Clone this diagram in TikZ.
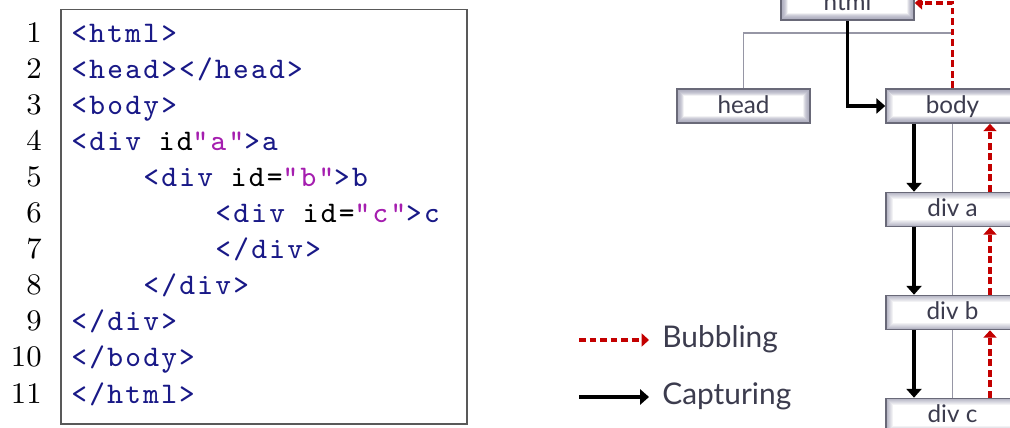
\documentclass[tikz,border=0pt]{standalone}
\usepackage{fontspec}
\setsansfont{Lato}
\newfontfamily\codefont[LetterSpace=7.7]{lmmono9-regular.otf}
\newfontfamily\numfont{lmroman9-regular.otf}
\usetikzlibrary{arrows.meta,calc}
\definecolor{tagblue}{RGB}{25,25,135}
\definecolor{attrpurple}{RGB}{165,30,175}
\definecolor{boxedge}{RGB}{105,105,120}
\definecolor{boxshade}{RGB}{175,175,192}
\definecolor{treegray}{RGB}{150,150,165}
\definecolor{labelgray}{RGB}{60,60,78}
\definecolor{bubred}{RGB}{195,0,0}
\newcommand{\htag}[1]{\textcolor{tagblue}{#1}}
\newcommand{\hattr}[1]{\textcolor{attrpurple}{#1}}

\begin{document}
\begin{tikzpicture}[x=0.02cm, y=0.02cm,
    lineno/.style={anchor=base east, inner sep=0, font=\numfont\fontsize{17}{19}\selectfont},
    codeline/.style={anchor=base west, inner sep=0, font=\codefont\fontsize{17}{19}\selectfont},
    domnode/.style={draw=boxedge, line width=0.9pt, fill=white, inner sep=0,
        minimum width=2.66cm, minimum height=0.68cm, text height=9.1pt, text depth=1.1pt,
        font=\sffamily\fontsize{13.8}{15}\selectfont, text=labelgray,
        path picture={
          \foreach \k [evaluate=\k as \op using 1-0.14*\k] in {1,...,6}
            \draw[boxshade, line width=0.6pt, opacity=\op]
              ([shift={(\k*0.02cm,\k*0.02cm)}]path picture bounding box.south west) rectangle
              ([shift={(-\k*0.02cm,-\k*0.02cm)}]path picture bounding box.north east);
        }},
    treeline/.style={treegray, line width=1.1pt},
    capture/.style={black, line width=2.2pt, -{Triangle[length=5pt,width=8.5pt]}},
    bubble/.style={bubred, line width=1.9pt, dash pattern=on 3.9pt off 2.1pt,
        -{Triangle[length=4.2pt,width=7.4pt]}},
    legend/.style={anchor=base west, inner sep=0, font=\sffamily\fontsize{17}{19}\selectfont, text=labelgray}]
  \clip (0,0) rectangle (1010,-428);
  \useasboundingbox (0,0) rectangle (1010,-428);

  % listing with line numbers
  \node[draw=black!65, line width=0.8pt, minimum width=8.12cm, minimum height=8.29cm, inner sep=0]
    (codebox) at (264,-216.75) {};
  \foreach \i in {1,...,11}
    \node[lineno] (n\i) at (42,{-43-36*(\i-1)}) {\i};
  \node[codeline] (c1) at (71,-43) {\htag{<html>}};
  \node[codeline] (c2) at (71,-79) {\htag{<head></head>}};
  \node[codeline] (c3) at (71,-115) {\htag{<body>}};
  \node[codeline] (c4) at (71,-151) {\htag{<div} id\hattr{"a"}\htag{>a}};
  \node[codeline] (c5) at (143,-187) {\htag{<div} id=\hattr{"b"}\htag{>b}};
  \node[codeline] (c6) at (215,-223) {\htag{<div} id=\hattr{"c"}\htag{>c}};
  \node[codeline] (c7) at (215,-259) {\htag{</div>}};
  \node[codeline] (c8) at (143,-295) {\htag{</div>}};
  \node[codeline] (c9) at (71,-331) {\htag{</div>}};
  \node[codeline] (c10) at (71,-367) {\htag{</body>}};
  \node[codeline] (c11) at (71,-403) {\htag{</html>}};

  % DOM tree
  \coordinate (fork) at (847.5,-33);
  \node[domnode] (html) at (847.5,-3) {html};
  \node[domnode] (head) at (743.5,-106) {head};
  \node[domnode] (body) at (952.5,-106) {body};
  \node[domnode] (diva) at (952.5,-209.5) {div a};
  \node[domnode] (divb) at (952.5,-312.5) {div b};
  \node[domnode] (divc) at (952.5,-415.5) {div c};
  \draw[treeline] (html.south) -- (fork);
  \draw[treeline] (head.north) |- (fork) -- (fork -| body.north);
  \draw[treeline] (body.south) -- (diva.north);
  \draw[treeline] (diva.south) -- (divb.north);
  \draw[treeline] (divb.south) -- (divc.north);

  % capturing goes down, bubbling goes up
  \draw[capture] (html.south) |- (body.west);
  \draw[capture] ([xshift=-0.77cm]body.south) -- ([xshift=-0.77cm]diva.north);
  \draw[capture] ([xshift=-0.77cm]diva.south) -- ([xshift=-0.77cm]divb.north);
  \draw[capture] ([xshift=-0.77cm]divb.south) -- ([xshift=-0.77cm]divc.north);
  \draw[bubble] (body.north) |- (html.east);
  \draw[bubble] ([xshift=0.75cm]diva.north) -- ([xshift=0.75cm]body.south);
  \draw[bubble] ([xshift=0.75cm]divb.north) -- ([xshift=0.75cm]diva.south);
  \draw[bubble] ([xshift=0.75cm]divc.north) -- ([xshift=0.75cm]divb.south);

  % legend
  \coordinate (bubtail) at (579,-340);
  \coordinate (captail) at (579,-397);
  \node[legend] (bub) at (662,-348) {Bubbling};
  \node[legend] (cap) at (662,-405) {Capturing};
  \draw[bubble] (bubtail) -- ([xshift=-0.26cm]bubtail -| bub.west);
  \draw[capture] (captail) -- ([xshift=-0.26cm]captail -| cap.west);
\end{tikzpicture}
\end{document}
